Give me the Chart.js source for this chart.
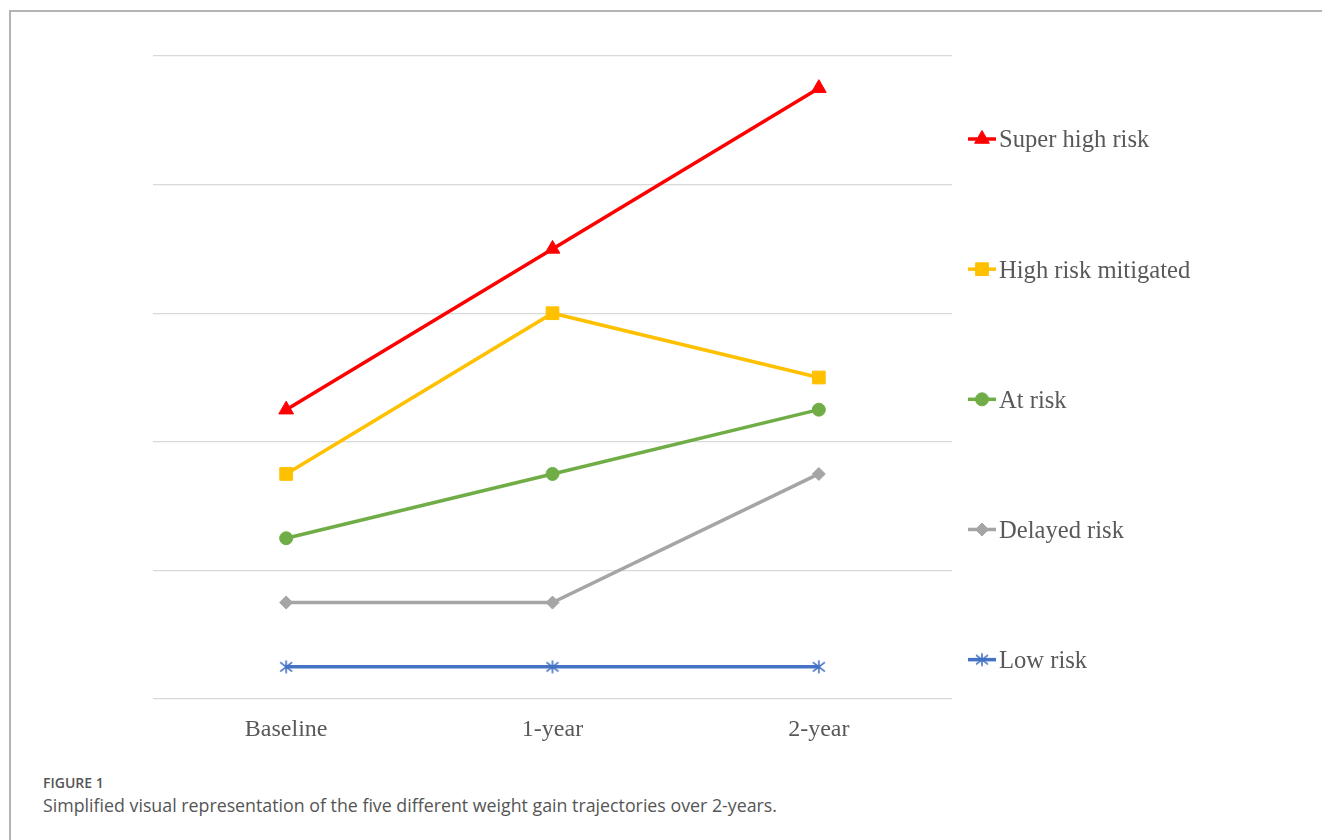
<!DOCTYPE html>
<html>
<head>
<meta charset="utf-8">
<script src="https://cdn.jsdelivr.net/npm/chart.js@4.4.1/dist/chart.umd.min.js"></script>
<style>
  html, body { margin: 0; padding: 0; background: #ffffff; }
  body { width: 1322px; height: 840px; position: relative; overflow: hidden; }
  #frame { position: absolute; left: 9px; top: 10px; width: 1313px; height: 830px;
           border-top: 2px solid #b4b4b4; border-left: 2px solid #b4b4b4; box-sizing: border-box; }
  #c { position: absolute; left: 0; top: 0; }
  #figlabel { position: absolute; left: 43px; top: 776px; font-family: "Open Sans", Lato, sans-serif;
              font-weight: 600; font-size: 14px; line-height: 1; color: #555555; white-space: nowrap; }
  #caption { position: absolute; left: 43px; top: 797px; font-family: "Open Sans", Lato, sans-serif;
             font-weight: 400; font-size: 17.8px; line-height: 1; color: #555555; white-space: nowrap; }
</style>
</head>
<body>
<div id="frame"></div>
<canvas id="c" width="1322" height="760"></canvas>
<div id="figlabel">FIGURE 1</div>
<div id="caption">Simplified visual representation of the five different weight gain trajectories over 2-years.</div>
<script>
// ---- data ----
const categories = ["Baseline", "1-year", "2-year"];
const seriesNames = ["Super high risk", "High risk mitigated", "At risk", "Delayed risk", "Low risk"];
const superHighRisk = [2.25, 3.5, 4.75];
const highRiskMitigated = [1.75, 3.0, 2.5];
const atRisk = [1.25, 1.75, 2.25];
const delayedRisk = [0.75, 0.75, 1.75];
const lowRisk = [0.25, 0.25, 0.25];
const yTicks = [0, 1, 2, 3, 4, 5];

// ---- custom asterisk marker (Excel-style star) ----
function makeStar(color) {
  const s = 18, cv = document.createElement('canvas');
  cv.width = s; cv.height = s;
  const g = cv.getContext('2d');
  g.strokeStyle = color; g.lineWidth = 1.6; g.lineCap = 'butt';
  const c = s / 2, r = 6.5;
  g.beginPath();
  g.moveTo(c, c - r); g.lineTo(c, c + r);
  g.moveTo(c - r * 0.92, c - r * 0.7); g.lineTo(c + r * 0.92, c + r * 0.7);
  g.moveTo(c - r * 0.92, c + r * 0.7); g.lineTo(c + r * 0.92, c - r * 0.7);
  g.stroke();
  return cv;
}
const starImg = makeStar('#4472C4');

const styles = [
  { color: '#FF0000', pointStyle: 'triangle', radius: 8.5 },
  { color: '#FFC000', pointStyle: 'rect', radius: 9 },
  { color: '#70AD47', pointStyle: 'circle', radius: 6.5 },
  { color: '#A5A5A5', pointStyle: 'rectRot', radius: 6.5 },
  { color: '#4472C4', pointStyle: starImg, radius: 7 }
];
const values = [superHighRisk, highRiskMitigated, atRisk, delayedRisk, lowRisk];

const datasets = values.map((v, i) => ({
  label: seriesNames[i],
  data: v,
  borderColor: styles[i].color,
  backgroundColor: styles[i].color,
  pointBackgroundColor: styles[i].color,
  pointBorderColor: styles[i].color,
  pointBorderWidth: 1,
  borderWidth: 3.5,
  pointStyle: styles[i].pointStyle,
  pointRadius: styles[i].radius,
  pointHoverRadius: styles[i].radius,
  tension: 0,
  clip: false
}));

const serif = '"Liberation Serif", "Times New Roman", serif';

const sideLegend = {
  id: 'sideLegend',
  afterDraw(chart) {
    const ctx = chart.ctx, area = chart.chartArea;
    const x0 = area.right + 16;
    const step = (area.bottom - area.top) / 4.94;
    ctx.save();
    chart.data.datasets.forEach((ds, i) => {
      const y = area.top + 83 + i * step;
      ctx.strokeStyle = ds.borderColor;
      ctx.lineWidth = 3.5;
      ctx.beginPath();
      ctx.moveTo(x0, y); ctx.lineTo(x0 + 28, y);
      ctx.stroke();
      ctx.fillStyle = ds.pointBackgroundColor;
      ctx.strokeStyle = ds.pointBorderColor;
      ctx.lineWidth = 1;
      Chart.helpers.drawPoint(ctx, { pointStyle: ds.pointStyle, radius: ds.pointRadius, rotation: 0, borderWidth: 1 }, x0 + 14, y);
      ctx.fillStyle = '#595959';
      ctx.font = '24.6px ' + serif;
      ctx.textBaseline = 'middle';
      ctx.textAlign = 'left';
      ctx.fillText(ds.label, x0 + 31, y + 2);
    });
    ctx.restore();
  }
};

new Chart(document.getElementById('c'), {
  type: 'line',
  data: { labels: categories, datasets },
  options: {
    responsive: false,
    animation: false,
    events: [],
    layout: { padding: { left: 153, right: 370, top: 56, bottom: 1 } },
    plugins: { legend: { display: false }, tooltip: { enabled: false } },
    scales: {
      x: {
        offset: true,
        grid: { display: false },
        border: { display: false },
        ticks: { font: { family: serif, size: 24 }, color: '#595959', padding: 8 },
        afterFit(scale) { scale.height = 60; }
      },
      y: {
        min: yTicks[0],
        max: yTicks[yTicks.length - 1],
        afterBuildTicks(scale) { scale.ticks = yTicks.map(v => ({ value: v })); },
        ticks: { display: false },
        grid: { color: '#d9d9d9', lineWidth: 1.3, drawTicks: false },
        border: { display: false },
        afterFit(scale) { scale.width = 0; }
      }
    }
  },
  plugins: [sideLegend]
});
</script>
</body>
</html>
